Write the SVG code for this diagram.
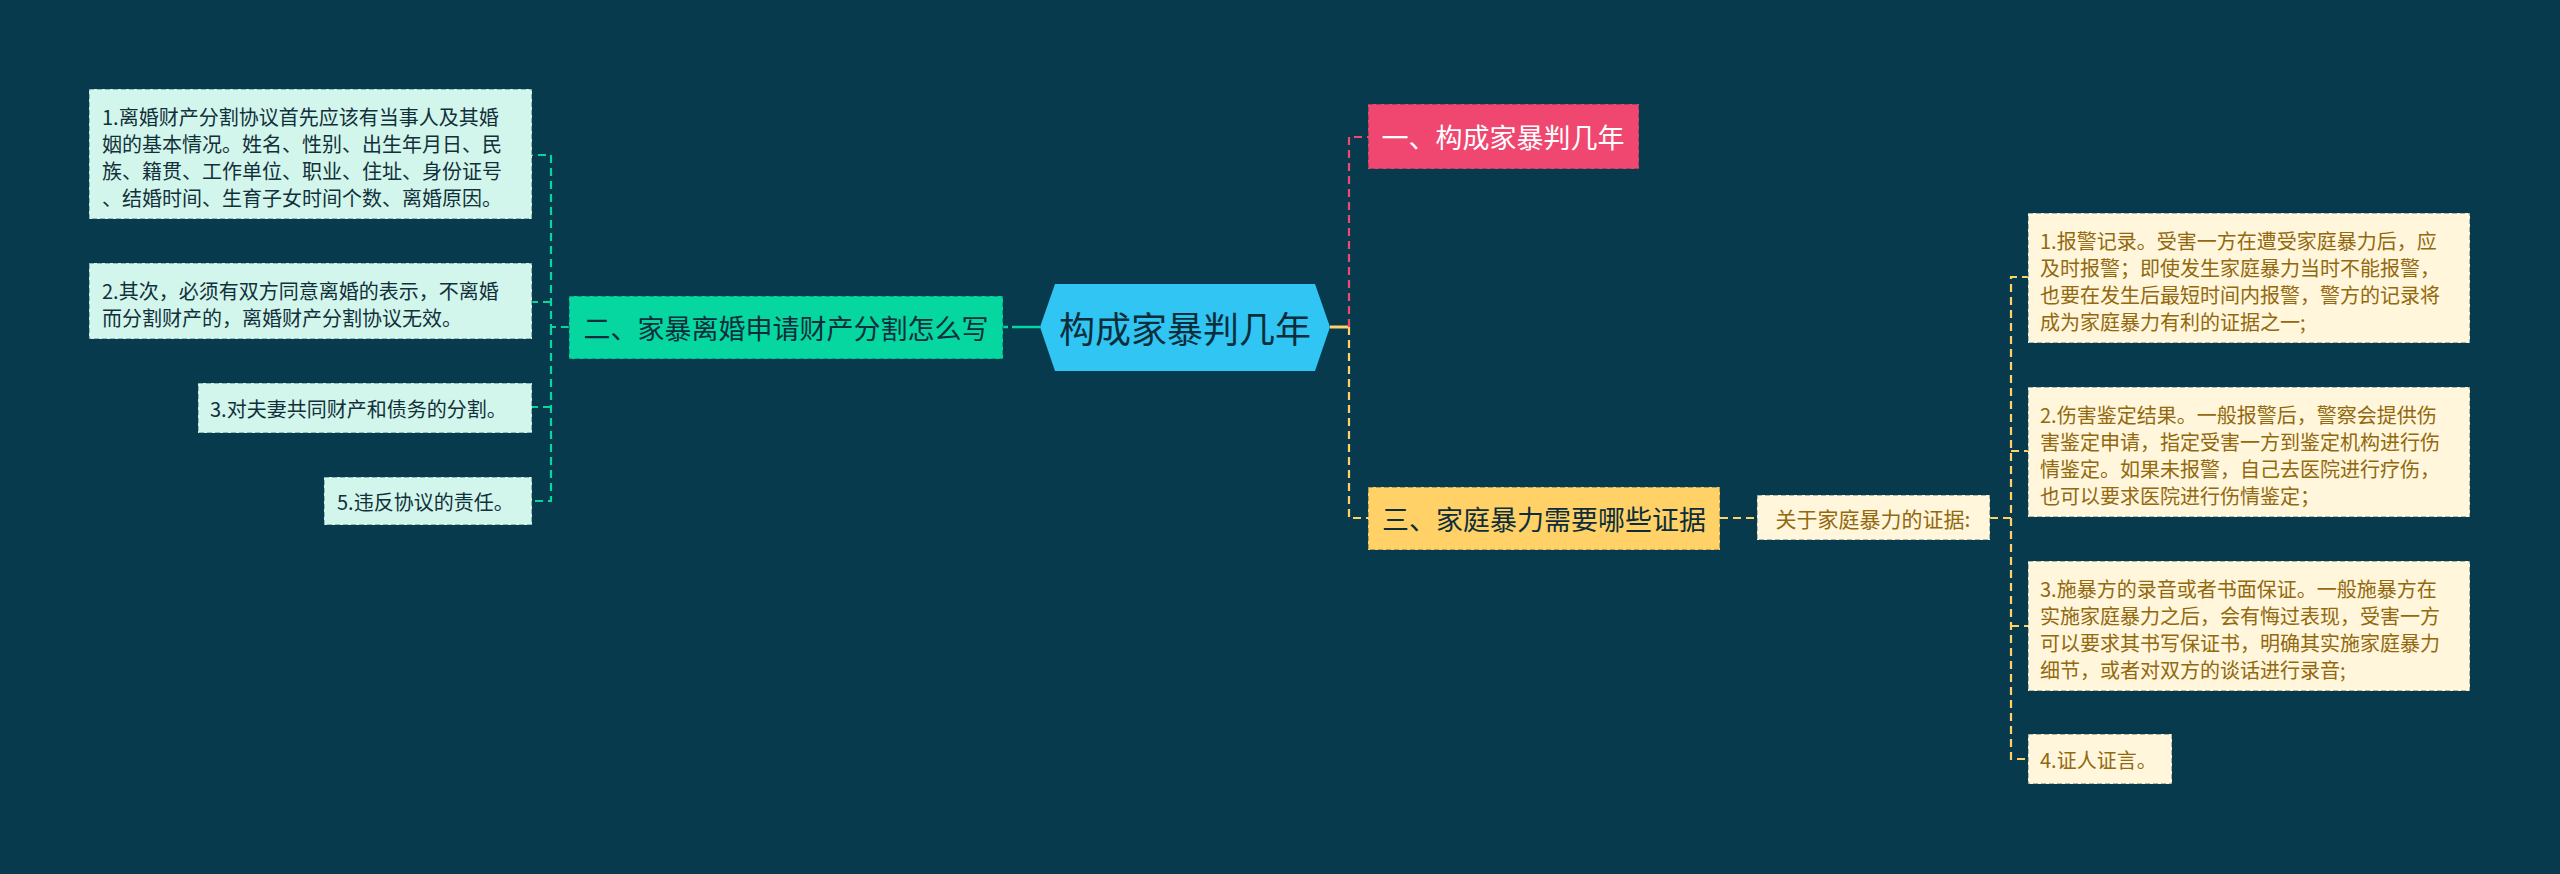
<svg xmlns="http://www.w3.org/2000/svg" width="2560" height="874" viewBox="0 0 2560 874">
<style>
text{font-family:"Noto Sans CJK SC","Noto Sans",sans-serif;dominant-baseline:central}
.bd{stroke:#073B4C;stroke-opacity:.45;stroke-width:1.5;stroke-dasharray:5 3}
.lg{fill:#D3F6EC}
.ly{fill:#FFF6DC}
.tl{font-size:20px;fill:#12303a}
.ty{font-size:20px;fill:#92690E}
.c{fill:none;stroke-width:2.2;stroke-dasharray:8 5}
</style>
<rect width="2560" height="874" fill="#073A4D"/>
<g id="connectors">
<line x1="1040" y1="327" x2="1012" y2="327" stroke="#06D6A0" stroke-width="2.5"/>
<line x1="1008" y1="327" x2="1003" y2="327" stroke="#06D6A0" stroke-width="2.5"/>
<path class="c" stroke="#06D6A0" d="M569,327 H551 V155 H532 M551,327 V501 H532 M551,302 H532 M551,407 H532"/>
<line x1="1330" y1="327" x2="1349" y2="327" stroke="#FFD166" stroke-width="3"/>
<path class="c" stroke="#EF476F" stroke-width="3" d="M1349,327 V137 H1368"/>
<path class="c" stroke="#FFD166" stroke-width="3" d="M1349,327 V518 H1368"/>
<path class="c" stroke="#FFD166" d="M1720,518 H1757"/>
<path class="c" stroke="#FFD166" d="M1990,518 H2011 V277 H2028 M2011,518 V759 H2028 M2011,451 H2028 M2011,626 H2028"/>
</g>
<g id="root">
<polygon points="1040,327 1055,284 1315,284 1330,327 1315,371 1055,371" fill="#30C5F3"/>
<text x="1185" y="327" font-size="36" fill="#0c2e3b" text-anchor="middle">构成家暴判几年</text>
</g>
<g id="n2">
<rect x="569" y="296" width="434" height="63" fill="#06D6A0" class="bd"/>
<text x="786" y="327" font-size="27" fill="#0c2e3b" text-anchor="middle">二、家暴离婚申请财产分割怎么写</text>
</g>
<g id="n1">
<rect x="1368" y="104" width="271" height="65" fill="#EF476F" class="bd"/>
<text x="1503" y="136" font-size="27" fill="#ffffff" text-anchor="middle">一、构成家暴判几年</text>
</g>
<g id="n3">
<rect x="1368" y="487" width="352" height="63" fill="#FFD166" class="bd"/>
<text x="1544" y="518" font-size="27" fill="#0c2e3b" text-anchor="middle">三、家庭暴力需要哪些证据</text>
</g>
<g id="n3a">
<rect x="1757" y="495" width="233" height="45" class="ly bd"/>
<text x="1873" y="518" font-size="21" fill="#92690E" text-anchor="middle">关于家庭暴力的证据:</text>
</g>
<g id="l1">
<rect x="89" y="89" width="443" height="130" class="lg bd"/>
<text class="tl" x="102"><tspan x="102" y="116">1.离婚财产分割协议首先应该有当事人及其婚</tspan><tspan x="102" y="143">姻的基本情况。姓名、性别、出生年月日、民</tspan><tspan x="102" y="170">族、籍贯、工作单位、职业、住址、身份证号</tspan><tspan x="102" y="197">、结婚时间、生育子女时间个数、离婚原因。</tspan></text>
</g>
<g id="l2">
<rect x="89" y="263" width="443" height="76" class="lg bd"/>
<text class="tl"><tspan x="102" y="290">2.其次，必须有双方同意离婚的表示，不离婚</tspan><tspan x="102" y="317">而分割财产的，离婚财产分割协议无效。</tspan></text>
</g>
<g id="l3">
<rect x="198" y="383" width="334" height="50" class="lg bd"/>
<text class="tl" x="210" y="408">3.对夫妻共同财产和债务的分割。</text>
</g>
<g id="l5">
<rect x="324" y="477" width="208" height="48" class="lg bd"/>
<text class="tl" x="337" y="501">5.违反协议的责任。</text>
</g>
<g id="r1">
<rect x="2028" y="213" width="442" height="130" class="ly bd"/>
<text class="ty"><tspan x="2040" y="240">1.报警记录。受害一方在遭受家庭暴力后，应</tspan><tspan x="2040" y="267">及时报警；即使发生家庭暴力当时不能报警，</tspan><tspan x="2040" y="294">也要在发生后最短时间内报警，警方的记录将</tspan><tspan x="2040" y="321">成为家庭暴力有利的证据之一;</tspan></text>
</g>
<g id="r2">
<rect x="2028" y="387" width="442" height="130" class="ly bd"/>
<text class="ty"><tspan x="2040" y="414">2.伤害鉴定结果。一般报警后，警察会提供伤</tspan><tspan x="2040" y="441">害鉴定申请，指定受害一方到鉴定机构进行伤</tspan><tspan x="2040" y="468">情鉴定。如果未报警，自己去医院进行疗伤，</tspan><tspan x="2040" y="495">也可以要求医院进行伤情鉴定；</tspan></text>
</g>
<g id="r3">
<rect x="2028" y="561" width="442" height="130" class="ly bd"/>
<text class="ty"><tspan x="2040" y="588">3.施暴方的录音或者书面保证。一般施暴方在</tspan><tspan x="2040" y="615">实施家庭暴力之后，会有悔过表现，受害一方</tspan><tspan x="2040" y="642">可以要求其书写保证书，明确其实施家庭暴力</tspan><tspan x="2040" y="669">细节，或者对双方的谈话进行录音;</tspan></text>
</g>
<g id="r4">
<rect x="2028" y="734" width="144" height="50" class="ly bd"/>
<text class="ty" x="2040" y="759">4.证人证言。</text>
</g>
</svg>
